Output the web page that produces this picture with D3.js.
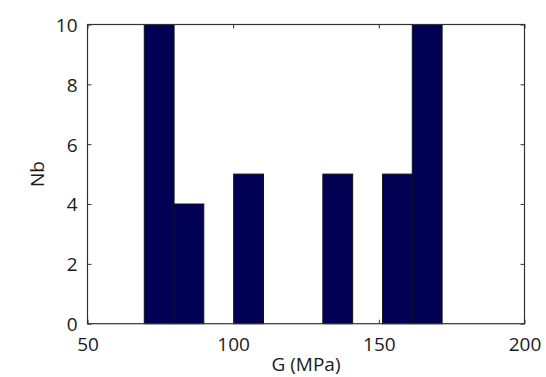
<!DOCTYPE html>
<html>
<head>
<meta charset="utf-8">
<script src="https://cdn.jsdelivr.net/npm/d3@7"></script>
<style>
  html, body { margin: 0; padding: 0; background: #fff; }
  text { font-family: "Open Sans", "DejaVu Sans", sans-serif; fill: #1a1a1a; }
</style>
</head>
<body>
<svg id="chart" width="546" height="377"></svg>
<script>
// Data
const binCenters = [74.6, 84.8, 95.1, 105.3, 115.5, 125.7, 135.9, 146.2, 156.4, 166.6];
const binWidth = 10.23;
const counts = [10, 4, 0, 5, 0, 0, 5, 0, 5, 10];
const xTicks = [50, 100, 150, 200];
const yTicks = [0, 2, 4, 6, 8, 10];
const xLabel = "G (MPa)";
const yLabel = "Nb";

const svg = d3.select("#chart");
const pL = 87.5, pT = 24.5, pR = 524.5, pB = 323.7;
const fs = "19px";

const x = d3.scaleLinear().domain([50, 200]).range([pL, pR]);
const y = d3.scaleLinear().domain([0, 10]).range([pB, pT]);

// bars
svg.append("g").selectAll("rect")
  .data(binCenters.map((c, i) => ({ c, n: counts[i] })).filter(d => d.n > 0))
  .join("rect")
  .attr("x", d => x(d.c - binWidth / 2))
  .attr("y", d => y(d.n))
  .attr("width", d => x(d.c + binWidth / 2) - x(d.c - binWidth / 2))
  .attr("height", d => y(0) - y(d.n))
  .attr("fill", "#000055")
  .attr("stroke", "#111")
  .attr("stroke-width", 1);

const axisColor = "#333";
const tickLen = 4;

// box
svg.append("rect")
  .attr("x", pL).attr("y", pT)
  .attr("width", pR - pL).attr("height", pB - pT)
  .attr("fill", "none").attr("stroke", axisColor).attr("stroke-width", 1.2);

const xAxisB = svg.append("g").attr("transform", `translate(0,${pB})`)
  .call(d3.axisBottom(x).tickValues(xTicks).tickSize(-tickLen).tickPadding(14).tickFormat(d3.format("d")));
const xAxisT = svg.append("g").attr("transform", `translate(0,${pT})`)
  .call(d3.axisTop(x).tickValues(xTicks).tickSize(-tickLen).tickFormat(""));
const yAxisL = svg.append("g").attr("transform", `translate(${pL},0)`)
  .call(d3.axisLeft(y).tickValues(yTicks).tickSize(-tickLen).tickPadding(10).tickFormat(d3.format("d")));
const yAxisR = svg.append("g").attr("transform", `translate(${pR},0)`)
  .call(d3.axisRight(y).tickValues(yTicks).tickSize(-tickLen).tickFormat(""));

[xAxisB, xAxisT, yAxisL, yAxisR].forEach(g => {
  g.select(".domain").remove();
  g.selectAll(".tick line").attr("stroke", axisColor);
  g.selectAll(".tick text").style("font-size", fs).attr("fill", "#1a1a1a")
    .style("font-family", "'Open Sans', 'DejaVu Sans', sans-serif");
});
yAxisL.selectAll(".tick text").attr("dy", "0.36em");

svg.append("text")
  .attr("x", (pL + pR) / 2).attr("y", 371)
  .attr("text-anchor", "middle")
  .style("font-size", fs)
  .text(xLabel);

svg.append("text")
  .attr("transform", `translate(44,${(pT + pB) / 2}) rotate(-90)`)
  .attr("text-anchor", "middle")
  .style("font-size", fs)
  .text(yLabel);
</script>
</body>
</html>
